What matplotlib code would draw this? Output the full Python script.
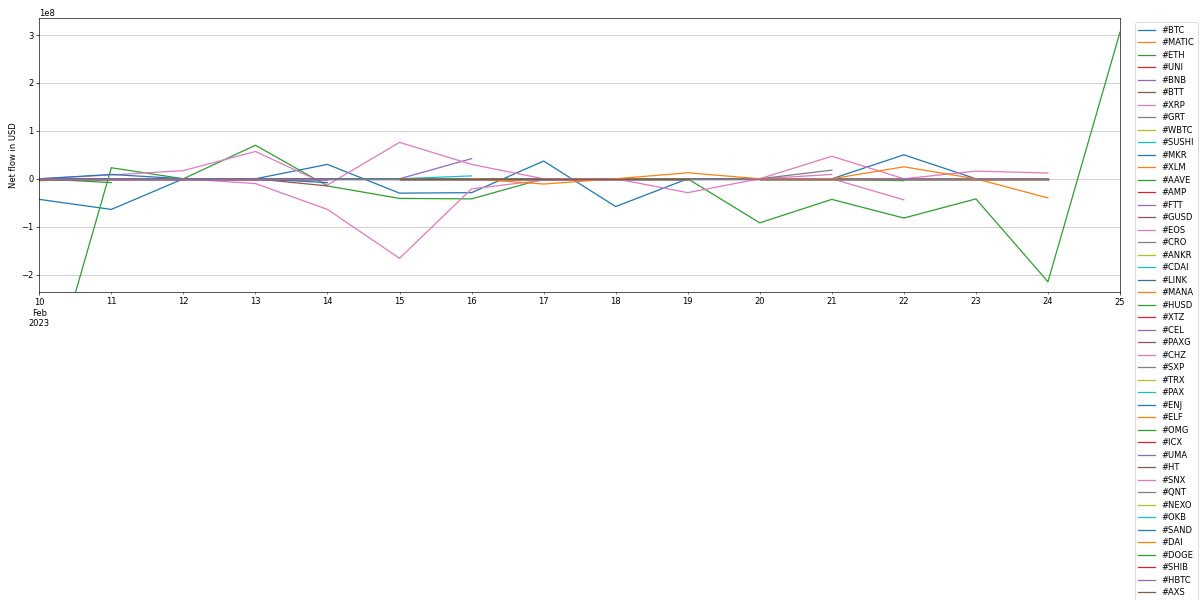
import numpy as np
import pandas as pd
import matplotlib
matplotlib.use("Agg")
import matplotlib.pyplot as plt

nan = np.nan
M = 1e6  # values below are in millions of USD

dates = pd.date_range("2023-02-10", "2023-02-25", freq="D")

tokens = ["BTC", "MATIC", "ETH", "UNI", "BNB", "BTT", "XRP", "GRT", "WBTC", "SUSHI",
          "MKR", "XLM", "AAVE", "AMP", "FTT", "GUSD", "EOS", "CRO", "ANKR", "CDAI",
          "LINK", "MANA", "HUSD", "XTZ", "CEL", "PAXG", "CHZ", "SXP", "TRX", "PAX",
          "ENJ", "ELF", "OMG", "ICX", "UMA", "HT", "SNX", "QNT", "NEXO", "OKB",
          "SAND", "DAI", "DOGE", "SHIB", "HBTC", "AXS"]

zeros_all   = [0, 0, 0, 0, 0, 0, 0, 0, 0, 0, 0, 0, 0, 0, 0, nan]
zeros_early = [0, 0, 0, 0, 0, nan, nan, nan, nan, nan, nan, nan, nan, nan, nan, nan]
zeros_mid   = [nan, nan, nan, nan, nan, 0, 0, 0, 0, 0, nan, nan, nan, nan, nan, nan]
zeros_late  = [nan, nan, nan, nan, nan, nan, nan, nan, nan, nan, 0, 0, 0, 0, 0, nan]

#          10    11   12   13   14    15    16   17   18   19    20   21   22   23    24    25
btc   = [-43, -64, 0, 0, 30, -30, -29, 37, -58, 0, 0, 0, 50, 0, 0, nan]
matic = [-4, 0, 0, -3, 0, 0, 0, 0, 0, 0, 0, 0, 0, 0, 0, nan]
eth   = [-500, 23, 0, 70, -15, -41, -42, 0, 0, 0, -92, -43, -82, -42, -215, 306]
bnb   = [0, 0, 0, 0, 0, 0, 42, nan, nan, nan, nan, nan, nan, nan, nan, nan]
btt   = [0, 0, 0, 0, -15, nan, nan, nan, nan, nan, nan, nan, nan, nan, nan, nan]
xrp   = [0, 8, 17, 57, -13, 76, 30, 0, 0, 0, 0, 9, nan, nan, nan, nan]
grt   = [0, 0, 0, 0, 0, 0, 0, 0, 0, 0, 0, 18, nan, nan, nan, nan]
sushi = [0, 0, 0, 0, 0, 0, 6, nan, nan, nan, nan, nan, nan, nan, nan, nan]
mkr   = [0, 9, 0, 0, -8, nan, nan, nan, nan, nan, nan, nan, nan, nan, nan, nan]
aave  = [0, -8, nan, nan, nan, nan, nan, nan, nan, nan, nan, nan, nan, nan, nan, nan]
eos   = [0, 0, 0, -10, -64, -166, -21, -3, 0, 0, 0, 0, -44, nan, nan, nan]
husd  = [0, 0, 0, 0, 0, 0, 0, 0, 0, 0, 0, 0, -4, nan, nan, nan]
chz   = [nan, nan, nan, nan, nan, nan, nan, 0, 0, -29, 0, 47, 0, 16, 12, nan]
dai   = [nan, nan, nan, nan, nan, nan, 0, -11, 0, 12.5, 0, 0, 25, 0, -40, nan]

special = {"BTC": btc, "MATIC": matic, "ETH": eth, "BNB": bnb, "BTT": btt,
           "XRP": xrp, "GRT": grt, "SUSHI": sushi, "MKR": mkr, "AAVE": aave,
           "EOS": eos, "HUSD": husd, "CHZ": chz, "DAI": dai,
           "UNI": zeros_all, "FTT": zeros_all, "HBTC": zeros_all}

spans = [zeros_early, zeros_mid, zeros_late]

data = {}
k = 0
for t in tokens:
    if t in special:
        vals = special[t]
    else:
        vals = spans[k % 3]
        k += 1
    data["#" + t] = np.array(vals, dtype=float) * M

df = pd.DataFrame(data, index=dates)

fig = plt.figure(figsize=(20, 10), dpi=60)
ax = fig.add_axes([39.3 / 1200, 1 - 292.3 / 600, (1120 - 39.3) / 1200, (292.3 - 18.3) / 600])

df.plot(ax=ax, linewidth=1.5)

ax.set_ylim(-2.37e8, 3.35e8)
ax.set_ylabel("Net flow in USD")
ax.set_xlabel("")
ax.grid(axis="y", color="#c8c8c8", linewidth=1.0)
ax.grid(axis="x", visible=False)
ax.legend(loc="upper left", bbox_to_anchor=(1.01, 1.0), labelspacing=0.42)

fig.savefig("out.png", dpi=60)
